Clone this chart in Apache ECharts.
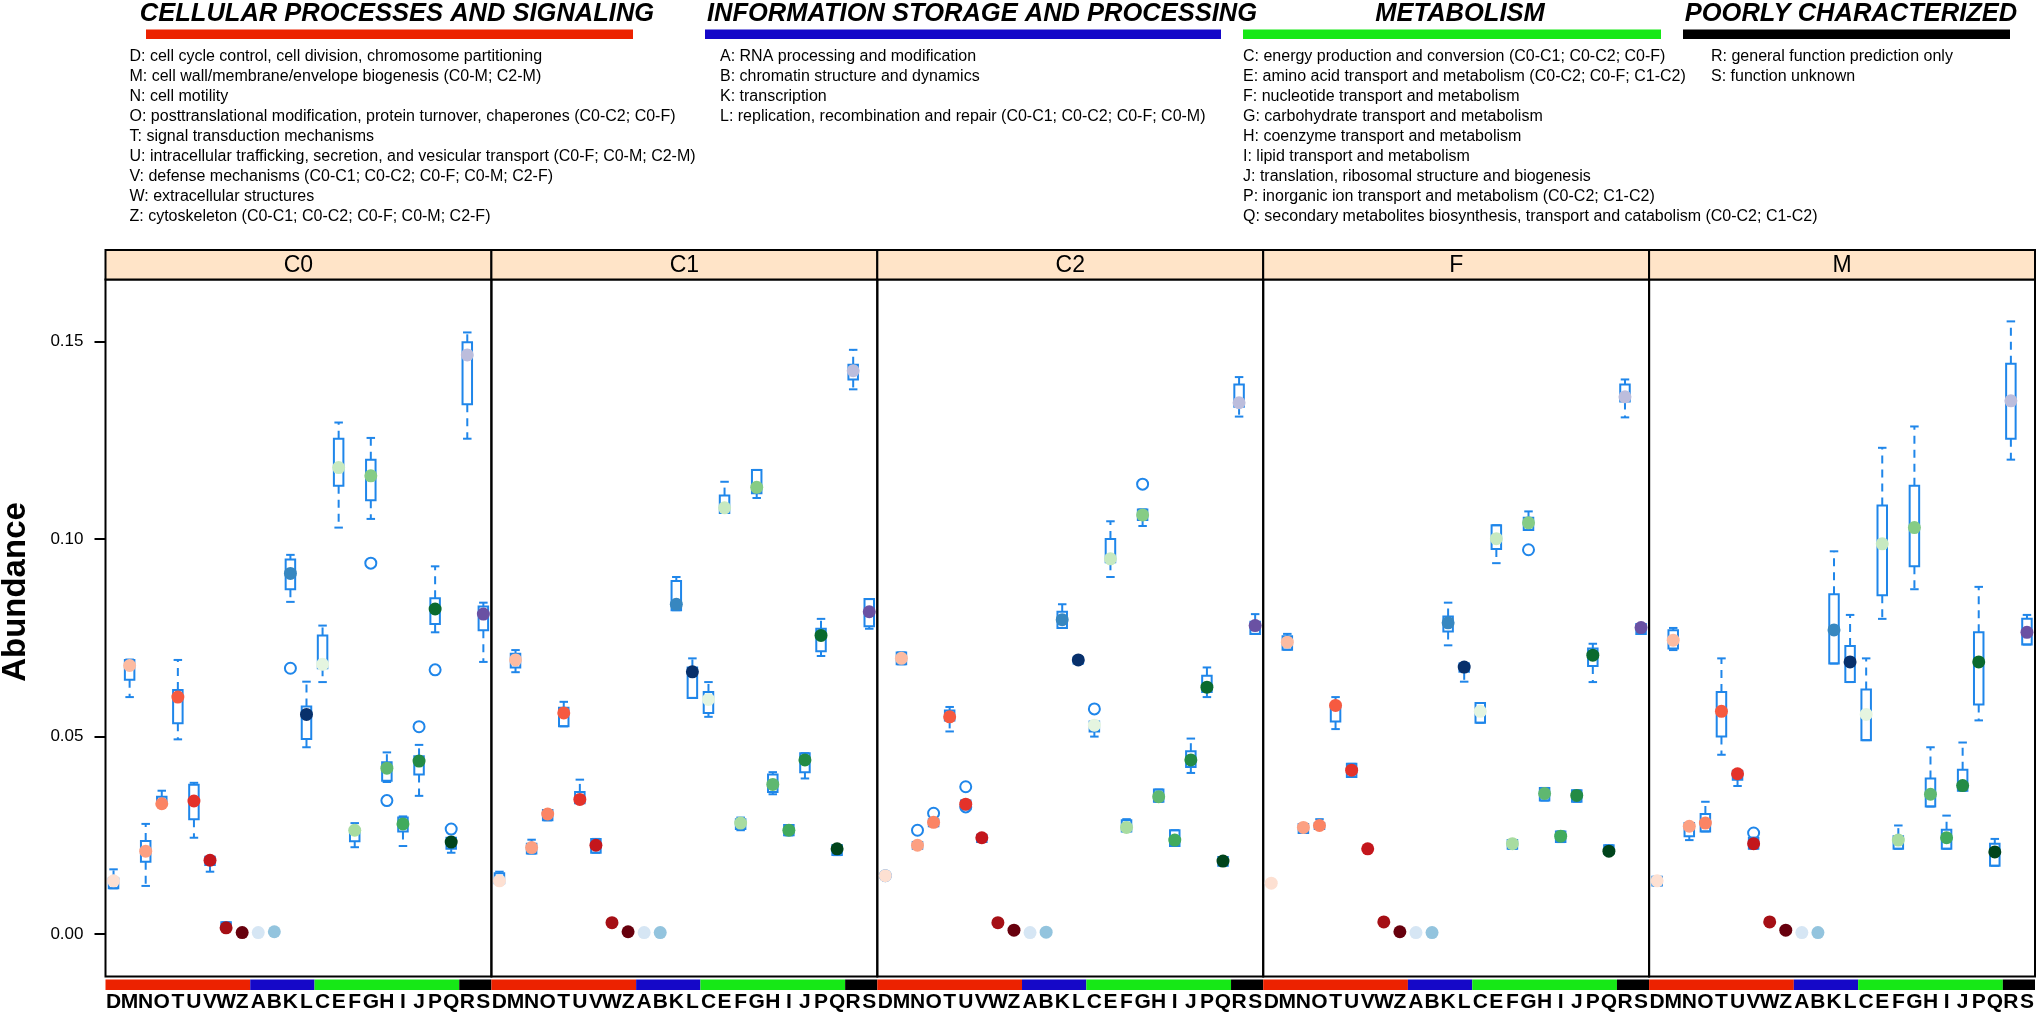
<!DOCTYPE html>
<html>
<head>
<meta charset="utf-8">
<script src="https://cdn.jsdelivr.net/npm/echarts@6/dist/echarts.min.js"></script>
<style>
html,body{margin:0;padding:0;background:#fff;}
#chart{width:2040px;height:1013px;}
</style>
</head>
<body>
<div id="chart"></div>
<script>
// ---------------- DATA ----------------
const categories = ['D','M','N','O','T','U','V','W','Z','A','B','K','L','C','E','F','G','H','I','J','P','Q','R','S'];
const categoryGroups = ['cps','cps','cps','cps','cps','cps','cps','cps','cps','isp','isp','isp','isp','met','met','met','met','met','met','met','met','met','pc','pc'];
const panelNames = ['C0','C1','C2','F','M'];
const yTicks = [0, 0.05, 0.10, 0.15];

// order: D M N O T U V W Z A B K L C E F G H I J P Q R S
const medianC0 = [0.0135,0.068,0.021,0.033,0.060,0.0337,0.0187,0.0016,0.0004,0.0004,0.0006,0.0913,0.0556,0.0683,0.1181,0.0263,0.116,0.042,0.0279,0.0438,0.0823,0.0233,0.1466,0.081];
const lowC0    = [0.0116,0.060,0.0122,0.0332,0.0493,0.0244,0.0158,0.0016,null,null,null,0.0841,0.0473,0.0638,0.1029,0.022,0.1051,0.0385,0.0223,0.035,0.0764,0.0206,0.1254,0.0689];
const q1C0     = [0.0116,0.0644,0.0183,0.0335,0.0534,0.0291,0.0175,0.0016,null,null,null,0.0873,0.0494,0.0673,0.1135,0.0235,0.1098,0.0388,0.026,0.0404,0.0785,0.0216,0.1341,0.0769];
const q3C0     = [0.0141,0.0694,0.0236,0.0348,0.0618,0.0378,0.0196,0.003,null,null,null,0.0948,0.0576,0.0756,0.1254,0.0266,0.1201,0.0435,0.0295,0.045,0.085,0.0244,0.1498,0.0829];
const highC0   = [0.0164,0.0695,0.0279,0.0363,0.0694,0.0383,0.0196,0.003,null,null,null,0.096,0.0639,0.0781,0.1295,0.0281,0.1256,0.046,0.0298,0.0479,0.0931,0.0244,0.1523,0.0839];
const outliersC0 = [['K',0.0673],['G',0.0939],['H',0.0338],['J',0.0525],['P',0.0669],['Q',0.0266]];

const medianC1 = [0.0135,0.0694,0.0219,0.0304,0.056,0.0341,0.0225,0.0029,0.0006,0.0004,0.0004,0.0835,0.0664,0.0594,0.1079,0.0281,0.1131,0.0379,0.0263,0.0441,0.0756,0.0216,0.1426,0.0816];
const lowC1    = [0.0129,0.0663,0.0204,0.0288,0.0526,0.0331,0.0206,null,null,null,null,0.082,0.0598,0.055,0.1066,0.0263,0.1104,0.0354,0.025,0.0394,0.0704,0.02,0.1379,0.0773];
const q1C1     = [0.0129,0.0675,0.0204,0.0288,0.0526,0.0331,0.0206,null,null,null,null,0.082,0.0598,0.056,0.1066,0.0266,0.1116,0.036,0.025,0.041,0.0716,0.02,0.1404,0.0779];
const q3C1     = [0.0154,0.071,0.0229,0.0314,0.0573,0.036,0.0241,null,null,null,null,0.0894,0.0675,0.0613,0.111,0.0291,0.1175,0.0404,0.0276,0.0458,0.0773,0.0225,0.1441,0.0848];
const highC1   = [0.0158,0.0719,0.0239,0.0314,0.0588,0.0391,0.0241,null,null,null,null,0.0904,0.0698,0.0638,0.1145,0.0295,0.1175,0.041,0.0276,0.0458,0.0798,0.0225,0.1479,0.0848];
const outliersC1 = [];

const medianC2 = [0.0148,0.0698,0.0225,0.0283,0.055,0.0329,0.0244,0.0029,0.001,0.0004,0.0005,0.0796,0.0694,0.0529,0.095,0.027,0.1061,0.0348,0.0238,0.0441,0.0625,0.0185,0.1345,0.0781];
const lowC2    = [null,0.0683,0.0216,0.0273,0.0513,0.0316,0.0233,null,null,null,null,0.0775,0.0685,0.05,0.0904,0.026,0.1033,0.0335,0.0223,0.0408,0.06,0.0173,0.131,0.076];
const q1C2     = [null,0.0683,0.0216,0.0273,0.0541,0.0316,0.0233,null,null,null,null,0.0775,0.0685,0.0513,0.0941,0.026,0.1048,0.0335,0.0223,0.0423,0.0613,0.0173,0.1335,0.076];
const q3C2     = [null,0.0713,0.0233,0.0291,0.0566,0.0338,0.0251,null,null,null,null,0.0816,0.07,0.0538,0.10,0.0288,0.1075,0.0366,0.0263,0.0463,0.0654,0.0195,0.1391,0.0791];
const highC2   = [null,0.0713,0.0233,0.0291,0.0575,0.0338,0.0251,null,null,null,null,0.0835,0.07,0.0538,0.1045,0.0291,0.1075,0.0366,0.0263,0.0495,0.0675,0.0195,0.141,0.081];
const outliersC2 = [['D',0.0148],['N',0.0263],['O',0.0306],['U',0.0373],['U',0.0322],['C',0.057],['G',0.1139]];

const medianF = [0.0129,0.0739,0.027,0.0275,0.0579,0.0415,0.0216,0.0031,0.0006,0.0004,0.0004,0.0788,0.0676,0.0564,0.1001,0.0229,0.1041,0.0356,0.0248,0.0351,0.0706,0.021,0.136,0.0776];
const lowF    = [0.0127,0.072,0.0256,0.0266,0.0519,0.0398,null,null,null,null,null,0.0731,0.0639,0.0535,0.0939,0.0216,0.1023,0.0338,0.0233,0.0335,0.0638,0.0204,0.1308,0.076];
const q1F     = [0.0127,0.072,0.0256,0.0266,0.0538,0.0398,null,null,null,null,null,0.0766,0.0664,0.0535,0.0975,0.0216,0.1023,0.0338,0.0233,0.0335,0.0679,0.0204,0.1348,0.076];
const q3F     = [0.0132,0.0754,0.0279,0.0281,0.0579,0.0431,null,null,null,null,null,0.0804,0.0685,0.0585,0.1035,0.0238,0.1054,0.037,0.026,0.0364,0.0723,0.0225,0.1391,0.0785];
const highF   = [0.0132,0.076,0.0279,0.0291,0.06,0.0431,null,null,null,null,null,0.0839,0.0685,0.0585,0.1035,0.0238,0.107,0.037,0.026,0.0364,0.0735,0.0225,0.1404,0.0785];
const outliersF = [['G',0.0973]];

const medianM = [0.0135,0.0744,0.0273,0.0281,0.0564,0.0406,0.0229,0.0031,0.001,0.0004,0.0004,0.077,0.0689,0.0556,0.0988,0.0238,0.1029,0.0354,0.0244,0.0376,0.0689,0.0208,0.135,0.0764];
const lowM    = [0.0123,0.0719,0.0238,0.026,0.0454,0.0375,0.0216,null,null,null,null,0.0685,0.0638,0.0491,0.0798,0.0216,0.0873,0.0323,0.0216,0.0363,0.0541,0.0173,0.1201,0.0733];
const q1M     = [0.0123,0.0723,0.0248,0.026,0.05,0.0391,0.0216,null,null,null,null,0.0685,0.0638,0.0491,0.0858,0.0216,0.0931,0.0323,0.0216,0.0363,0.0581,0.0173,0.1254,0.0733];
const q3M     = [0.0145,0.0769,0.0281,0.0304,0.0613,0.0413,0.0244,null,null,null,null,0.086,0.0729,0.0619,0.1085,0.0248,0.1135,0.0394,0.0264,0.0416,0.0764,0.0229,0.1444,0.0798];
const highM   = [0.0145,0.0775,0.0281,0.0335,0.0698,0.0413,0.0244,null,null,null,null,0.0969,0.0808,0.0698,0.1231,0.0275,0.1285,0.0473,0.03,0.0485,0.0879,0.0241,0.1551,0.0808];
const outliersM = [['V',0.0256]];

// header texts
const groupTitles = ['CELLULAR PROCESSES AND SIGNALING','INFORMATION STORAGE AND PROCESSING','METABOLISM','POORLY CHARACTERIZED'];
const cpsLines = [
 'D: cell cycle control, cell division, chromosome partitioning',
 'M: cell wall/membrane/envelope biogenesis (C0-M; C2-M)',
 'N: cell motility',
 'O: posttranslational modification, protein turnover, chaperones (C0-C2; C0-F)',
 'T: signal transduction mechanisms',
 'U: intracellular trafficking, secretion, and vesicular transport (C0-F; C0-M; C2-M)',
 'V: defense mechanisms (C0-C1; C0-C2; C0-F; C0-M; C2-F)',
 'W: extracellular structures',
 'Z: cytoskeleton (C0-C1; C0-C2; C0-F; C0-M; C2-F)'
];
const ispLines = [
 'A: RNA processing and modification',
 'B: chromatin structure and dynamics',
 'K: transcription',
 'L: replication, recombination and repair (C0-C1; C0-C2; C0-F; C0-M)'
];
const metLines = [
 'C: energy production and conversion (C0-C1; C0-C2; C0-F)',
 'E: amino acid transport and metabolism (C0-C2; C0-F; C1-C2)',
 'F: nucleotide transport and metabolism',
 'G: carbohydrate transport and metabolism',
 'H: coenzyme transport and metabolism',
 'I: lipid transport and metabolism',
 'J: translation, ribosomal structure and biogenesis',
 'P: inorganic ion transport and metabolism (C0-C2; C1-C2)',
 'Q: secondary metabolites biosynthesis, transport and catabolism (C0-C2; C1-C2)'
];
const pcLines = [
 'R: general function prediction only',
 'S: function unknown'
];

// ---------------- STYLE ----------------
const medianColors = ['#fde0d2','#fcbba1','#fca082','#fb8464','#f65a40','#e4322a','#c4161c','#a50f15','#67000d',
  '#d6e6f4','#93c4de','#3787c0','#08306b',
  '#e5f5e0','#c7e9c0','#a8dca0','#86cc85','#5fb870','#41ab5d','#238b45','#0a6a2e','#00441b',
  '#bcbddc','#6a51a3'];
const groupKeys = ['cps','isp','met','pc'];
const groupColors = {cps:'#ec2200', isp:'#1508c8', met:'#16e816', pc:'#000000'};
const BLUE = '#1f86ea';
const FONT = '"Liberation Sans", Arial, Helvetica, sans-serif';

const panels = [
  {low:lowC0, q1:q1C0, q3:q3C0, high:highC0, median:medianC0, out:outliersC0},
  {low:lowC1, q1:q1C1, q3:q3C1, high:highC1, median:medianC1, out:outliersC1},
  {low:lowC2, q1:q1C2, q3:q3C2, high:highC2, median:medianC2, out:outliersC2},
  {low:lowF,  q1:q1F,  q3:q3F,  high:highF,  median:medianF,  out:outliersF},
  {low:lowM,  q1:q1M,  q3:q3M,  high:highM,  median:medianM,  out:outliersM}
];

// group runs along the category axis: [startIndex, endIndex, groupIndex]
const groupRuns = [];
categoryGroups.forEach((g, i) => {
  const gIdx = groupKeys.indexOf(g);
  const last = groupRuns[groupRuns.length - 1];
  if (last && last[2] === gIdx) last[1] = i; else groupRuns.push([i, i, gIdx]);
});

// layout
const PL = 105.5, PW = 385.9, PT = 279.5, PH = 696.9;
const STRIP_T = 250, BAR_T = 979.5, BAR_H = 10.5;
const YMIN = -0.0107, YMAX = 0.1657;

function renderBox(params, api) {
  const c = api.value(0);
  const lo = api.coord([c, api.value(1)]);
  const q1 = api.coord([c, api.value(2)]);
  const q3 = api.coord([c, api.value(3)]);
  const hi = api.coord([c, api.value(4)]);
  const x = lo[0];
  const bw = 9.5, cw = 8.5;
  const solid = {stroke: BLUE, lineWidth: 2, fill: null};
  const dashed = {stroke: BLUE, lineWidth: 2, lineDash: [8, 6], fill: null};
  const kids = [];
  if (hi[1] < q3[1] - 0.5) kids.push({type:'line', shape:{x1:x, y1:q3[1], x2:x, y2:hi[1]}, style:dashed});
  if (lo[1] > q1[1] + 0.5) kids.push({type:'line', shape:{x1:x, y1:q1[1], x2:x, y2:lo[1]}, style:dashed});
  kids.push({type:'line', shape:{x1:x-cw/2, y1:hi[1], x2:x+cw/2, y2:hi[1]}, style:solid});
  kids.push({type:'line', shape:{x1:x-cw/2, y1:lo[1], x2:x+cw/2, y2:lo[1]}, style:solid});
  kids.push({type:'rect', shape:{x:x-bw/2, y:q3[1], width:bw, height:Math.max(q1[1]-q3[1], 1)}, style:{stroke:BLUE, lineWidth:2, fill:'rgba(0,0,0,0)'}});
  return {type:'group', children:kids};
}

function renderRun(params, api) {
  const s = api.value(0), e = api.value(1), g = api.value(2);
  const w = api.size([1, 0])[0];
  const p0 = api.coord([s, 1]);
  const p1 = api.coord([e, 0]);
  return {type:'rect', shape:{x:p0[0] - w/2, y:p0[1], width:p1[0] - p0[0] + w, height:p1[1] - p0[1]},
    style:{fill:groupColors[groupKeys[g]]}};
}

const grid = [], xAxis = [], yAxis = [], series = [], graphic = [];

panels.forEach((p, k) => {
  const left = PL + k * PW;
  const gi = 2 * k, bi = 2 * k + 1;
  grid.push({left:left, top:PT, width:PW, height:PH, show:true, borderColor:'#000', borderWidth:2, backgroundColor:'rgba(0,0,0,0)'});
  grid.push({left:left, top:BAR_T, width:PW, height:BAR_H, show:false});
  xAxis.push({type:'category', gridIndex:gi, data:categories, boundaryGap:true,
    axisLine:{show:false}, axisTick:{show:false}, axisLabel:{show:false}, splitLine:{show:false}});
  xAxis.push({type:'category', gridIndex:bi, data:categories, boundaryGap:true,
    axisLine:{show:false}, axisTick:{show:false},
    axisLabel:{show:true, interval:0, margin:2, color:'#000', fontFamily:FONT, fontWeight:'bold', fontSize:21}});
  yAxis.push({type:'value', gridIndex:gi, min:YMIN, max:YMAX, splitLine:{show:false},
    axisLine:{show:false},
    axisTick:{show:k===0, length:11, lineStyle:{color:'#000', width:2}, customValues:yTicks},
    axisLabel:{show:k===0, margin:22, color:'#000', fontFamily:FONT, fontSize:17,
      customValues:yTicks, formatter:(v)=>Number(v).toFixed(2)}});
  yAxis.push({type:'value', gridIndex:bi, min:0, max:1, show:false});

  const boxData = [];
  categories.forEach((c, i) => {
    if (p.low[i] !== null) boxData.push([i, p.low[i], p.q1[i], p.q3[i], p.high[i]]);
  });
  series.push({type:'custom', xAxisIndex:gi, yAxisIndex:gi, renderItem:renderBox,
    encode:{x:0, y:[1,2,3,4]}, data:boxData, z:2, silent:true});
  series.push({type:'scatter', xAxisIndex:gi, yAxisIndex:gi, symbol:'circle', symbolSize:11,
    itemStyle:{color:'rgba(0,0,0,0)', borderColor:BLUE, borderWidth:2, opacity:1},
    data:p.out.map(o => [o[0], o[1]]), z:3, silent:true});
  series.push({type:'scatter', xAxisIndex:gi, yAxisIndex:gi, symbol:'circle', symbolSize:13,
    data:p.median.map((v, i) => ({value:[i, v], itemStyle:{color:medianColors[i], opacity:1}})), z:4, silent:true});
  series.push({type:'custom', xAxisIndex:bi, yAxisIndex:bi, renderItem:renderRun,
    encode:{x:[0,1]}, data:groupRuns, silent:true});

  // strip
  graphic.push({type:'rect', shape:{x:left, y:STRIP_T, width:PW, height:PT-STRIP_T},
    style:{fill:'#FFE4C8', stroke:'#000', lineWidth:2}, z:10});
  graphic.push({type:'text', x:left + PW/2, y:(STRIP_T + PT)/2 + 1,
    style:{text:panelNames[k], fill:'#000', font:'23px ' + FONT, textAlign:'center', textVerticalAlign:'middle'}, z:11});
});

// header
const titleCenters = [397, 982, 1460, 1851];
const barSpans = [[146,633],[705,1221],[1243,1661],[1683,2010]];
groupTitles.forEach((t, i) => {
  graphic.push({type:'text', x:titleCenters[i], y:14,
    style:{text:t, fill:'#000', font:'italic bold 25.5px ' + FONT, textAlign:'center', textVerticalAlign:'middle'}});
  graphic.push({type:'rect', shape:{x:barSpans[i][0], y:29.5, width:barSpans[i][1]-barSpans[i][0], height:9.5},
    style:{fill:groupColors[groupKeys[i]]}});
});
const columns = [[129.5, cpsLines],[720, ispLines],[1243, metLines],[1711, pcLines]];
columns.forEach(([x, lines]) => {
  lines.forEach((line, j) => {
    graphic.push({type:'text', x:x, y:57 + 20*j,
      style:{text:line, fill:'#000', font:'16px ' + FONT, textAlign:'left', textVerticalAlign:'middle'}});
  });
});
graphic.push({type:'text', x:16, y:592, rotation:Math.PI/2,
  style:{text:'Abundance', fill:'#000', font:'bold 33px ' + FONT, textAlign:'center', textVerticalAlign:'middle'}});

const chart = echarts.init(document.getElementById('chart'), null, {renderer:'canvas'});
chart.setOption({
  backgroundColor:'#fff',
  animation:false,
  grid:grid, xAxis:xAxis, yAxis:yAxis, series:series, graphic:graphic
});
</script>
</body>
</html>
